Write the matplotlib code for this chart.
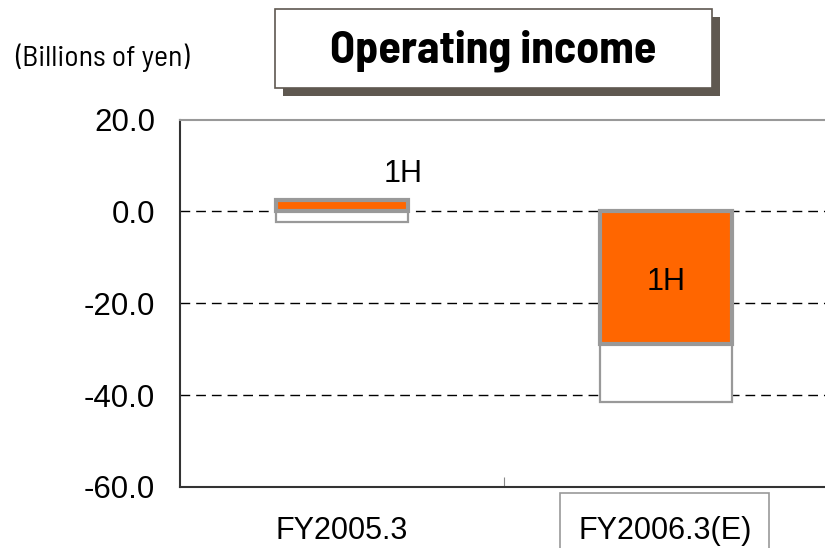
import matplotlib
matplotlib.use("Agg")
import matplotlib.pyplot as plt
from matplotlib.patches import Rectangle
from matplotlib import font_manager

categories = ["FY2005.3", "FY2006.3(E)"]
full_year = [-2.4, -41.6]
first_half = [2.4, -28.8]
half_label = "1H"
yticks = [20.0, 0.0, -20.0, -40.0, -60.0]

# narrow faces, first one installed wins
installed = {f.name for f in font_manager.fontManager.ttflist}
wanted = ["Liberation Sans Narrow", "Arimo Narrow", "Barlow Semi Condensed", "Archivo Narrow"]
narrow = [n for n in wanted if n in installed] + ["DejaVu Sans"]
plt.rcParams['font.family'] = ['Liberation Sans', 'DejaVu Sans']

fig = plt.figure(figsize=(8.25, 5.48), dpi=100)
ax = fig.add_axes([180 / 825, 1 - 487 / 548, 648 / 825, (487 - 119.5) / 548])

x = list(range(len(categories)))
ax.bar(x, full_year, width=0.41, color="white", edgecolor="#999999", linewidth=1.6, zorder=3)
ax.bar(x, first_half, width=0.41, color="#ff6600", edgecolor="#999999", linewidth=3, zorder=4)

ax.set_xlim(-0.5, 1.5)
ax.set_ylim(-60, 20)
ax.set_yticks(yticks)
ax.set_yticklabels(["%.1f" % v for v in yticks], fontsize=22.5)
ax.tick_params(axis="y", length=0, pad=18)
ax.set_xticks([0.5])
ax.set_xticklabels([])
ax.tick_params(axis="x", direction="in", length=7, color="#888888")

for v in [0, -20, -40]:
    ax.axhline(v, color="black", linestyle=(0, (7, 4.3)), linewidth=1, zorder=1)

ax.spines["right"].set_visible(False)
ax.spines["top"].set_color("#999999")
ax.spines["top"].set_linewidth(1.5)
for s in ["left", "bottom"]:
    ax.spines[s].set_color("#333333")
    ax.spines[s].set_linewidth(1.5)

# 1H labels
ax.text(0.19, (211.7 - 182) / 4.6, half_label, fontsize=22, ha="center", va="baseline", zorder=5)
ax.text(1.0, -(290 - 211.7) / 4.6, half_label, fontsize=22, ha="center", va="baseline", zorder=5)

# category labels
fig.text(342 / 825, 1 - 539 / 548, categories[0], fontsize=22, ha="center", va="baseline")
fig.text(665 / 825, 1 - 539 / 548, categories[1], fontsize=22, ha="center", va="baseline")
fig.patches.append(Rectangle((560 / 825, -0.01), 209 / 825, 1 - 493 / 548 + 0.01, transform=fig.transFigure,
                             facecolor="none", edgecolor="#999999", linewidth=1.2))

# title box with shadow
fig.patches.append(Rectangle((283 / 825, 1 - 96 / 548), 437 / 825, 79 / 548, transform=fig.transFigure,
                             facecolor="#5f5850", edgecolor="none"))
fig.patches.append(Rectangle((275 / 825, 1 - 88 / 548), 437 / 825, 79 / 548, transform=fig.transFigure,
                             facecolor="white", edgecolor="#5f5850", linewidth=1.2))
fig.text(493 / 825, 1 - 63 / 548, "Operating income", fontsize=33, fontweight="bold",
         family=narrow, ha="center", va="baseline")

fig.text(15 / 825, 1 - 66 / 548, "(Billions of yen)", fontsize=21.5,
         family=narrow, ha="left", va="baseline")

fig.savefig("out.png", dpi=100)
